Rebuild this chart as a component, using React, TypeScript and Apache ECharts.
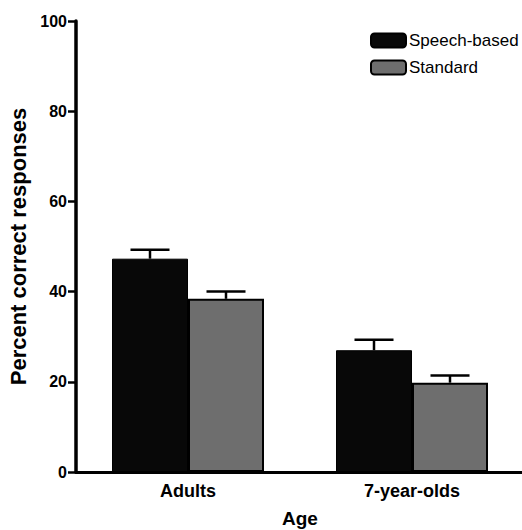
import React, { useEffect, useRef } from "react";
import * as echarts from "echarts";

const categories = ["Adults", "7-year-olds"];
const speechMeans = [47.3, 27.0];
const speechUpper = [49.3, 29.3];
const standardMeans = [38.4, 19.8];
const standardUpper = [40.0, 21.4];
const yTicks = [0, 20, 40, 60, 80, 100];

const FONT = "'Liberation Sans', Arial, sans-serif";
const BAR_W = 76;

function errorSeries(name: string, means: number[], upper: number[], offset: number) {
  return {
    type: "custom",
    name,
    silent: true,
    z: 5,
    data: means.map((m, i) => [i, m, upper[i]]),
    renderItem: (params: any, api: any) => {
      const i = api.value(0);
      const base = api.coord([i, api.value(1)]);
      const top = api.coord([i, api.value(2)]);
      const x = base[0] + offset;
      const half = 19.5;
      return {
        type: "group",
        children: [
          { type: "line", shape: { x1: x, y1: base[1], x2: x, y2: top[1] }, style: { stroke: "#000", lineWidth: 2.5 } },
          { type: "line", shape: { x1: x - half, y1: top[1], x2: x + half, y2: top[1] }, style: { stroke: "#000", lineWidth: 2.5 } },
        ],
      };
    },
  };
}

export default function App() {
  const ref = useRef<HTMLDivElement>(null);
  useEffect(() => {
    if (!ref.current) return;
    const chart = echarts.init(ref.current, undefined, { renderer: "svg" });
    chart.setOption({
      animation: false,
      backgroundColor: "#fff",
      textStyle: { fontFamily: FONT },
      grid: { left: 76, top: 21, width: 448, height: 451, containLabel: false, outerBoundsMode: "none" },
      legend: {
        data: ["Speech-based", "Standard"],
        orient: "vertical",
        left: 365,
        top: 27,
        itemWidth: 35,
        itemHeight: 14,
        itemGap: 10,
        textStyle: { fontFamily: FONT, fontSize: 17, color: "#000", padding: [0, 0, 0, -2] },
      },
      xAxis: {
        type: "category",
        data: categories,
        name: "Age",
        nameLocation: "middle",
        nameGap: 37,
        nameTextStyle: { fontFamily: FONT, fontSize: 19, fontWeight: "bold", color: "#000" },
        axisLine: { lineStyle: { color: "#000", width: 3 } },
        axisTick: { alignWithLabel: true, length: 7, lineStyle: { color: "#000", width: 2.5 } },
        axisLabel: { fontFamily: FONT, fontSize: 18, fontWeight: "bold", color: "#000", margin: 10 },
      },
      yAxis: {
        type: "value",
        min: yTicks[0],
        max: yTicks[yTicks.length - 1],
        interval: 20,
        name: "Percent correct responses",
        nameLocation: "middle",
        nameGap: 44,
        nameTextStyle: { fontFamily: FONT, fontSize: 22, fontWeight: "bold", color: "#000" },
        splitLine: { show: false },
        axisLine: { show: true, lineStyle: { color: "#000", width: 3.5 } },
        axisTick: { show: true, length: 8, lineStyle: { color: "#000", width: 2.5 } },
        axisLabel: { fontFamily: FONT, fontSize: 16, fontWeight: "bold", color: "#000", margin: 9 },
      },
      series: [
        {
          type: "bar",
          name: "Speech-based",
          data: speechMeans,
          barWidth: BAR_W,
          barGap: "0%",
          itemStyle: { color: "#080808", borderColor: "#000", borderWidth: 1 },
        },
        {
          type: "bar",
          name: "Standard",
          data: standardMeans,
          barWidth: BAR_W,
          barGap: "0%",
          itemStyle: { color: "#6e6e6e", borderColor: "#000", borderWidth: 2 },
        },
        errorSeries("errSpeech", speechMeans, speechUpper, -BAR_W / 2),
        errorSeries("errStandard", standardMeans, standardUpper, BAR_W / 2),
      ],
    });
    return () => chart.dispose();
  }, []);
  return <div ref={ref} style={{ width: 522, height: 530, position: "absolute", left: 0, top: 0 }} />;
}
